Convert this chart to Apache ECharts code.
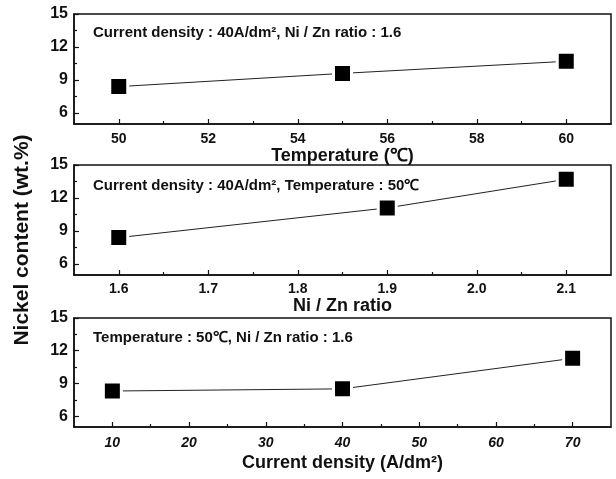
<!DOCTYPE html>
<html>
<head>
<meta charset="utf-8">
<script src="https://cdn.jsdelivr.net/npm/echarts@6/dist/echarts.min.js"></script>
<style>
  html, body { margin: 0; padding: 0; background: #fff; }
  #chart { width: 616px; height: 479px; }
</style>
</head>
<body>
<div id="chart"></div>
<script>
// Nickel content of the deposit vs. bath temperature, Ni/Zn ratio and current density
const temperature = [50, 55, 60];
const nickelByTemperature = [8.4, 9.6, 10.7];

const niZnRatio = [1.6, 1.9, 2.1];
const nickelByRatio = [8.4, 11.1, 13.7];

const currentDensity = [10, 40, 70];
const nickelByCurrent = [8.3, 8.5, 11.3];

// tick positions
const nickelTicks = [6, 9, 12, 15];
const nickelMinorTicks = [7.5, 10.5, 13.5];
const temperatureTicks = [50, 52, 54, 56, 58, 60];
const temperatureMinorTicks = [51, 53, 55, 57, 59];
const ratioTicks = [1.6, 1.7, 1.8, 1.9, 2.0, 2.1];
const ratioMinorTicks = [1.65, 1.75, 1.85, 1.95, 2.05];
const currentTicks = [10, 20, 30, 40, 50, 60, 70];
const currentMinorTicks = [15, 25, 35, 45, 55, 65];

const panelNotes = [
  'Current density : 40A/dm², Ni / Zn ratio : 1.6',
  'Current density : 40A/dm², Temperature : 50℃',
  'Temperature : 50℃, Ni / Zn ratio : 1.6'
];
const xNames = ['Temperature (℃)', 'Ni / Zn ratio', 'Current density (A/dm²)'];
const yName = 'Nickel content (wt.%)';

const FONT = 'Liberation Sans, Arial, sans-serif';
const INK = '#111';

const panels = [
  { x: temperature, y: nickelByTemperature, min: 49, max: 61,
    ticks: temperatureTicks, minor: temperatureMinorTicks, fmt: v => String(v),
    top: 14, height: 110, labelMargin: 8, nameGap: 20, noteTop: 25, italic: false },
  { x: niZnRatio, y: nickelByRatio, min: 1.55, max: 2.15,
    ticks: ratioTicks, minor: ratioMinorTicks, fmt: v => v.toFixed(1),
    top: 165, height: 110, labelMargin: 7, nameGap: 17, noteTop: 178, italic: false },
  { x: currentDensity, y: nickelByCurrent, min: 5, max: 75,
    ticks: currentTicks, minor: currentMinorTicks, fmt: v => String(v),
    top: 318, height: 109, labelMargin: 9, nameGap: 27, noteTop: 330, italic: true }
];

const grid = [], xAxis = [], yAxis = [], series = [], title = [];

panels.forEach((p, i) => {
  grid.push({
    left: 74, width: 537, top: p.top, height: p.height,
    show: true, borderColor: INK, borderWidth: 1.5, backgroundColor: 'transparent'
  });

  // main x axis: labels + major ticks
  xAxis.push({
    type: 'value', gridIndex: i, position: 'bottom', min: p.min, max: p.max,
    name: xNames[i], nameLocation: 'middle', nameGap: p.nameGap,
    nameTextStyle: { fontFamily: FONT, fontWeight: 'bold', fontSize: 18, color: INK },
    axisLine: { show: true, lineStyle: { color: INK, width: 1.5 } },
    axisTick: { show: true, inside: true, length: 5, customValues: p.ticks, lineStyle: { color: INK, width: 1.2 } },
    axisLabel: { show: true, customValues: p.ticks, margin: p.labelMargin, formatter: p.fmt,
      fontFamily: FONT, fontWeight: 'bold', fontSize: 14, color: INK,
      fontStyle: p.italic ? 'italic' : 'normal' },
    splitLine: { show: false }
  });
  // minor x ticks
  xAxis.push({
    type: 'value', gridIndex: i, position: 'bottom', min: p.min, max: p.max,
    axisLine: { show: false },
    axisTick: { show: true, inside: true, length: 3, customValues: p.minor, lineStyle: { color: INK, width: 1.2 } },
    axisLabel: { show: false },
    splitLine: { show: false }
  });

  // main y axis
  yAxis.push({
    type: 'value', gridIndex: i, position: 'left', min: 5, max: 15,
    axisLine: { show: true, lineStyle: { color: INK, width: 1.5 } },
    axisTick: { show: true, inside: true, length: 5, customValues: nickelTicks, lineStyle: { color: INK, width: 1.2 } },
    axisLabel: { show: true, customValues: nickelTicks, margin: 6,
      fontFamily: FONT, fontWeight: 'bold', fontSize: 16, color: INK },
    splitLine: { show: false }
  });
  // minor y ticks
  yAxis.push({
    type: 'value', gridIndex: i, position: 'left', min: 5, max: 15,
    axisLine: { show: false },
    axisTick: { show: true, inside: true, length: 3, customValues: nickelMinorTicks, lineStyle: { color: INK, width: 1.2 } },
    axisLabel: { show: false },
    splitLine: { show: false }
  });

  series.push({
    type: 'line', xAxisIndex: i * 2, yAxisIndex: i * 2,
    data: p.x.map((v, k) => [v, p.y[k]]),
    symbol: 'rect', symbolSize: 18,
    itemStyle: { color: '#000', borderColor: '#fff', borderWidth: 3 },
    lineStyle: { color: '#222', width: 1 },
    clip: false, animation: false, silent: true
  });

  title.push({
    text: panelNotes[i], left: 93, top: p.noteTop, padding: 0,
    textStyle: { fontFamily: FONT, fontWeight: 'bold', fontSize: 15, color: INK }
  });
});

const chart = echarts.init(document.getElementById('chart'), null, { renderer: 'canvas' });
chart.setOption({
  backgroundColor: '#fff',
  animation: false,
  title,
  grid,
  xAxis,
  yAxis,
  series,
  graphic: [{
    type: 'text', x: 22, y: 240, rotation: Math.PI / 2,
    style: { text: yName, fontFamily: FONT, fontWeight: 'bold', fontSize: 21, fill: INK,
      align: 'center', verticalAlign: 'middle' }
  }]
});
</script>
</body>
</html>
